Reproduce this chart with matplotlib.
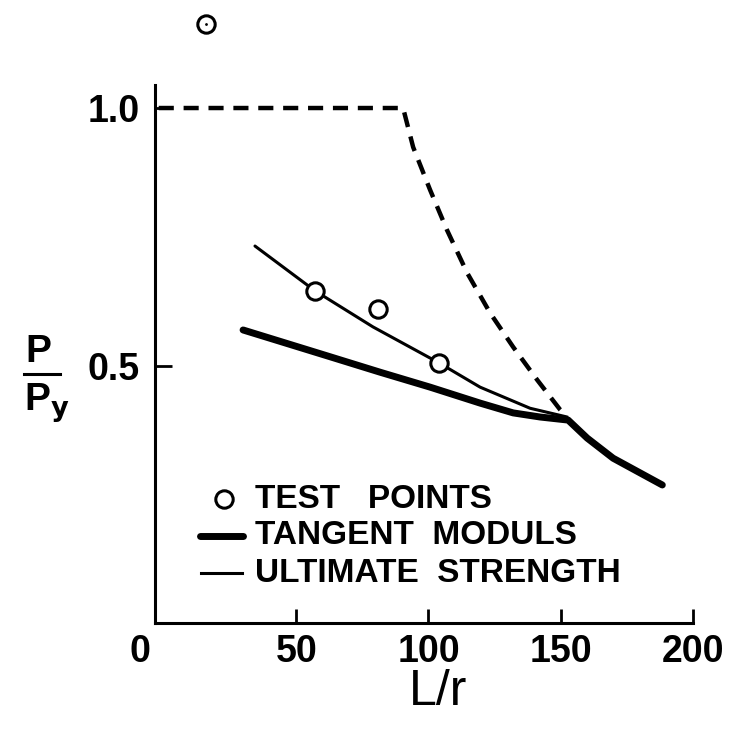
import matplotlib
matplotlib.use("Agg")
from matplotlib import pyplot as plt
from matplotlib.lines import Line2D
from matplotlib.transforms import ScaledTranslation

plt.rcParams['font.family'] = ['Liberation Sans', 'DejaVu Sans']
plt.rcParams['font.weight'] = 'bold'
plt.rcParams['mathtext.default'] = 'regular'

# test points (L/r, P/Py)
test_x = [15.9, 57.1, 80.9, 104.0]
test_y = [1.164, 0.645, 0.610, 0.505]

# tangent modulus curve
tangent_x = [29.9, 62.8, 81.7, 100.6, 119.5, 132.0, 142.2, 152.8, 160.0, 169.8, 188.4]
tangent_y = [0.569, 0.517, 0.487, 0.458, 0.427, 0.408, 0.400, 0.394, 0.359, 0.320, 0.268]

# ultimate strength curve
ultimate_x = [34.4, 57.1, 79.0, 104.0, 119.5, 138.4, 152.4]
ultimate_y = [0.732, 0.645, 0.575, 0.505, 0.458, 0.417, 0.400]

# dashed yield / euler limit
limit_x = [-2.0, 90.4, 94.2, 100.6, 107.0, 114.6, 123.3, 132.0, 141.1, 149.8, 152.4]
limit_y = [1.0, 1.0, 0.924, 0.841, 0.763, 0.680, 0.602, 0.536, 0.472, 0.414, 0.400]

xticks = [0, 50, 100, 150, 200]
yticks = [0.5, 1.0]

W, H = 730, 732
fig = plt.figure(figsize=(W / 100, H / 100), dpi=100)
ax = fig.add_axes([155 / W, 1 - 623 / H, (693 - 155) / W, (623 - 85) / H])

ax.plot(limit_x, limit_y, color='black', lw=3.2, dashes=(3.4, 2.2), solid_joinstyle='round')
ax.plot(ultimate_x, ultimate_y, color='black', lw=2.2, solid_capstyle='round',
        solid_joinstyle='round')
ax.plot(tangent_x, tangent_y, color='black', lw=5, solid_capstyle='round',
        solid_joinstyle='round')
ax.plot(test_x, test_y, 'o', ms=12.5, mew=2.2, mfc='white', mec='black',
        clip_on=False, zorder=5)
ax.plot(test_x[:1], test_y[:1], '.', ms=2, color='black', clip_on=False, zorder=6)

ax.set_xlim(-3.4, 200)
ax.set_ylim(0, 1.0447)
ax.set_xticks(xticks)
ax.set_yticks(yticks)
ax.set_yticklabels(['%.1f' % v for v in yticks])
ax.tick_params(direction='in', width=2, labelsize=27)
ax.tick_params(axis='x', length=10, pad=8)
ax.tick_params(axis='y', length=12, pad=11)
for s in ['top', 'right']:
    ax.spines[s].set_visible(False)
for s in ['left', 'bottom']:
    ax.spines[s].set_linewidth(2.2)

# the "0" sits left of the y axis in the original
t0 = ax.xaxis.get_major_ticks()[0]
t0.tick1line.set_visible(False)
t0.label1.set_ha('right')
t0.label1.set_transform(t0.label1.get_transform() +
                        ScaledTranslation(-14 / 100, 0, fig.dpi_scale_trans))

# axis labels
fig.text(438 / W, 1 - 692 / H, 'L/r', fontsize=36, fontweight='normal',
         ha='center', va='center')
fig.text(38 / W, 1 - 352 / H, 'P', fontsize=28, ha='center', va='center')
fig.add_artist(Line2D([24 / W, 60 / W], [1 - 374 / H, 1 - 374 / H],
                      color='black', lw=2.2, transform=fig.transFigure))
fig.text(24 / W, 1 - 403 / H, r'P$_\mathbf{y}$', fontsize=28, ha='left', va='center')

# legend
rows = [499, 536, 573]
labels = ['TEST   POINTS', 'TANGENT  MODULS', 'ULTIMATE  STRENGTH']
fig.add_artist(Line2D([224 / W], [1 - rows[0] / H], marker='o', ms=12.5, mew=2.2,
                      mfc='white', mec='black', transform=fig.transFigure))
fig.add_artist(Line2D([200 / W, 243 / W], [1 - rows[1] / H] * 2, color='black', lw=5,
                      solid_capstyle='round', transform=fig.transFigure))
fig.add_artist(Line2D([201 / W, 242 / W], [1 - rows[2] / H] * 2, color='black', lw=2.2,
                      transform=fig.transFigure))
for r, lab in zip(rows, labels):
    fig.text(255 / W, 1 - r / H, lab, fontsize=24, ha='left', va='center')

plt.savefig("out.png", dpi=100)
